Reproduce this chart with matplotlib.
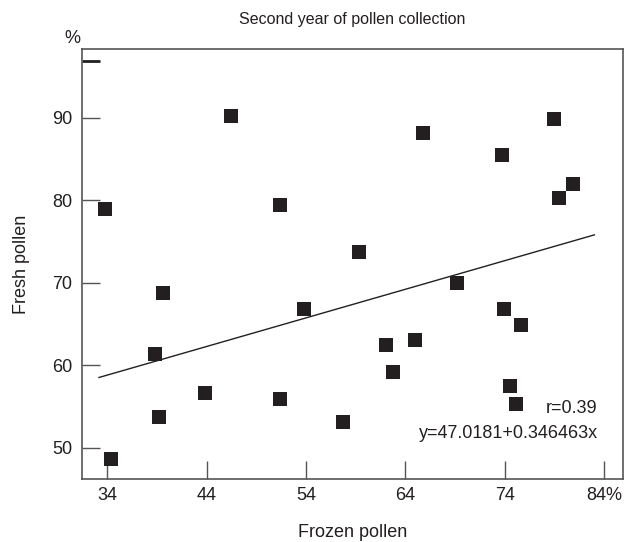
import matplotlib
matplotlib.use("Agg")
import matplotlib.pyplot as plt
import numpy as np

plt.rcParams['font.family'] = ['Liberation Sans', 'DejaVu Sans']

frozen = [33.76, 34.40, 39.64, 38.80, 39.17, 43.85, 46.44, 51.33, 51.37, 53.81,
          57.68, 59.35, 62.04, 62.77, 64.96, 65.74, 69.16, 73.69, 73.96, 74.53,
          75.10, 75.64, 78.96, 79.46, 80.87]
fresh = [78.87, 48.6, 68.7, 61.3, 53.7, 56.6, 90.2, 79.4, 55.88, 66.75,
         53.1, 73.66, 62.4, 59.2, 63.0, 88.08, 69.9, 85.47, 66.75, 57.5,
         55.3, 64.8, 89.8, 80.3, 81.9]
intercept = 47.0181
slope = 0.346463
r_value = 0.39
line_x = [33.15, 83.02]

xticks = [34, 44, 54, 64, 74, 84]
xticklabels = ['34', '44', '54', '64', '74', '84%']
yticks = [50, 60, 70, 80, 90, 96.8]
yticklabels = ['50', '60', '70', '80', '90', '']

fig = plt.figure(figsize=(6.3, 5.42), dpi=100)
ax = fig.add_axes([0.1302, 0.1162, 0.8587, 0.7934])

ax.scatter(frozen, fresh, marker='s', s=110, color='#231f20', zorder=3, linewidths=0)
lx = np.array(line_x)
ax.plot(lx, intercept + slope * lx, color='#231f20', lw=1.0, zorder=2)

ax.set_xlim(31.44, 85.9)
ax.set_ylim(46.2, 98.3)
ax.set_xticks(xticks)
ax.set_xticklabels(xticklabels)
ax.set_yticks(yticks)
ax.set_yticklabels(yticklabels)
ax.tick_params(axis='both', direction='in', length=13, width=1.0, color='#555555',
               labelsize=13, labelcolor='#231f20')
ax.tick_params(axis='x', pad=6)
ax.tick_params(axis='y', pad=7)
t = ax.yaxis.get_major_ticks()[-1]
t.tick1line.set_markeredgecolor('#231f20')
t.tick1line.set_markeredgewidth(2.0)

for s in ax.spines.values():
    s.set_color('#555555')
    s.set_linewidth(1.2)

ax.set_title('Second year of pollen collection', fontsize=11.5, color='#231f20', pad=18)
ax.set_xlabel('Frozen pollen', fontsize=13, color='#231f20', labelpad=14)
ax.set_ylabel('Fresh pollen', fontsize=13, color='#231f20', labelpad=16)
ax.text(-0.017, 1.005, '%', transform=ax.transAxes, fontsize=13, color='#231f20',
        ha='center', va='bottom')

ax.text(0.953, 0.163, 'r=%.2f' % r_value, transform=ax.transAxes, fontsize=13,
        color='#231f20', ha='right', va='center')
ax.text(0.953, 0.105, 'y=%.4f+%.6fx' % (intercept, slope), transform=ax.transAxes,
        fontsize=13, color='#231f20', ha='right', va='center')

fig.savefig('out.png', dpi=100)
